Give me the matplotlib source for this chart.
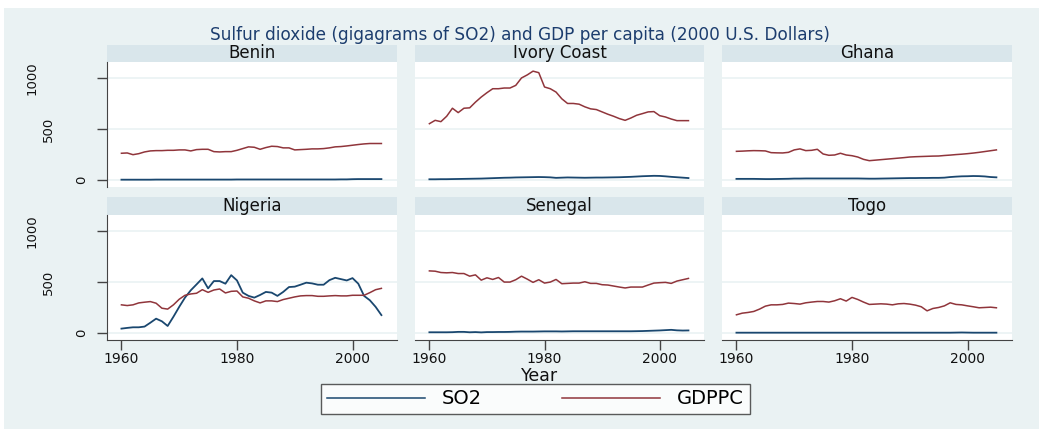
import matplotlib
matplotlib.use("Agg")
import matplotlib.pyplot as plt
import matplotlib.transforms as mtransforms
from matplotlib.patches import Rectangle

# figure size in pixels
W, H = 1039, 429

years = list(range(1960, 2006))

countries = ["Benin", "Ivory Coast", "Ghana", "Nigeria", "Senegal", "Togo"]

so2_benin = [2, 2, 2, 2, 2, 2, 3, 3, 3, 3, 3, 3, 3, 3, 3, 3, 3, 3, 3, 3,
             4, 4, 4, 4, 4, 4, 4, 4, 4, 4, 4, 4, 4, 4, 4, 4, 4, 4, 5, 5,
             7, 8, 8, 8, 8, 8]
gdppc_benin = [262, 265, 248, 258, 275, 285, 288, 288, 291, 291,
               295, 295, 285, 298, 301, 301, 278, 275, 278, 278,
               291, 308, 325, 321, 301, 318, 331, 328, 315, 315,
               295, 298, 301, 305, 305, 308, 315, 325, 328, 334,
               341, 348, 354, 358, 358, 358]

so2_ivory = [6, 6, 7, 7, 8, 9, 10, 11, 12, 13, 15, 17, 19, 21, 22, 24, 25, 26, 27, 28,
             27, 25, 20, 22, 24, 23, 22, 21, 22, 23, 23, 24, 25, 26, 28, 30, 33, 36, 38, 40,
             39, 35, 30, 26, 22, 18]
gdppc_ivory = [553, 586, 573, 626, 705, 662, 705, 709, 765, 815,
               858, 897, 897, 904, 904, 930, 1003, 1033, 1070, 1055,
               914, 897, 864, 798, 752, 752, 745, 719, 699, 692,
               669, 646, 626, 603, 586, 609, 636, 652, 669, 672,
               632, 619, 599, 583, 583, 583]

so2_ghana = [10, 10, 10, 10, 9, 8, 8, 9, 10, 11, 13, 13, 14, 14, 14, 14, 14, 14, 14, 14,
             14, 14, 13, 12, 12, 13, 14, 15, 16, 17, 18, 18, 19, 19, 20, 20, 22, 28, 32, 35,
             36, 38, 37, 34, 28, 25]
gdppc_ghana = [281, 283, 286, 288, 287, 285, 268, 266, 265, 271,
               295, 305, 288, 291, 301, 255, 242, 245, 262, 245,
               238, 225, 202, 189, 194, 199, 204, 209, 214, 219,
               225, 228, 230, 232, 234, 235, 240, 244, 249, 253,
               258, 264, 271, 279, 287, 295]

so2_nigeria = [42, 49, 55, 55, 62, 100, 140, 114, 68, 159,
               256, 347, 419, 477, 536, 438, 510, 510, 484, 568,
               516, 396, 364, 347, 373, 403, 396, 364, 403, 451,
               455, 474, 494, 487, 474, 474, 519, 542, 529, 516,
               539, 484, 364, 321, 256, 175]
gdppc_nigeria = [276, 269, 276, 295, 302, 308, 292, 243, 234, 276,
                 331, 370, 383, 390, 425, 399, 422, 432, 393, 409,
                 412, 354, 341, 315, 295, 315, 315, 308, 328, 341,
                 354, 364, 367, 367, 360, 360, 364, 367, 364, 364,
                 370, 370, 370, 396, 425, 438]

so2_senegal = [6, 6, 6, 6, 7, 10, 10, 6, 8, 5, 8, 8, 9, 9, 10, 12, 13, 13, 13, 14,
               15, 15, 15, 14, 15, 16, 16, 16, 16, 16, 16, 16, 16, 16, 16, 16, 17, 18, 20, 22,
               24, 27, 30, 25, 23, 24]
gdppc_senegal = [610, 607, 594, 591, 594, 584, 584, 558, 571, 519,
                 542, 526, 545, 500, 500, 523, 558, 529, 497, 523,
                 490, 500, 526, 484, 487, 490, 490, 503, 487, 487,
                 474, 471, 461, 451, 442, 451, 451, 451, 471, 490,
                 494, 497, 487, 510, 523, 536]

so2_togo = [2, 2, 2, 2, 2, 2, 2, 2, 2, 2, 2, 2, 2, 2, 2, 2, 2, 2, 2, 2,
            2, 2, 2, 2, 2, 2, 2, 2, 2, 2, 2, 2, 2, 2, 2, 2, 2, 2, 3, 4,
            3, 2, 2, 2, 2, 2]
gdppc_togo = [178, 194, 201, 211, 234, 263, 276, 276, 280, 293,
              289, 283, 296, 303, 309, 309, 303, 316, 336, 313,
              349, 329, 303, 280, 283, 286, 283, 276, 286, 289,
              283, 273, 257, 217, 240, 250, 266, 296, 280, 276,
              266, 257, 247, 250, 253, 247]

so2_all = [so2_benin, so2_ivory, so2_ghana, so2_nigeria, so2_senegal, so2_togo]
gdppc_all = [gdppc_benin, gdppc_ivory, gdppc_ghana, gdppc_nigeria, gdppc_senegal, gdppc_togo]

yticks = [0, 500, 1000]
xticks = [1960, 1980, 2000]

# colours (Stata s2color)
bg = "#eaf2f3"
strip = "#d9e6eb"
navy = "#1a476f"
maroon = "#90353b"
grid = "#eaf2f3"
axis_col = "#444444"

plt.rcParams["font.family"] = ["DejaVu Sans"]

# x pixel of the (staggered) y tick labels, as in the picture
ylab_px = {0: 82, 500: 48, 1000: 32}


def px_axes(fig, x0, y0, x1, y1):
    # axes from pixel box (top-left origin)
    return fig.add_axes([x0 / W, 1 - y1 / H, (x1 - x0) / W, (y1 - y0) / H])


fig = plt.figure(figsize=(W / 100, H / 100), dpi=100)
fig.patch.set_facecolor("white")
fig.patches.append(Rectangle((4 / W, 0), 1, 1 - 8 / H, transform=fig.transFigure,
                             facecolor=bg, edgecolor="none", zorder=-10))

fig.text(520 / W, 1 - 35 / H,
         "Sulfur dioxide (gigagrams of SO2) and GDP per capita (2000 U.S. Dollars)",
         ha="center", va="center", fontsize=12.2, color="#1c3d6e")

col_x = [(107, 397), (415, 704), (722, 1012)]
row_y = [((45, 62), (62, 187)), ((197, 215), (215, 340))]

for i, name in enumerate(countries):
    r, c = divmod(i, 3)
    x0, x1 = col_x[c]
    (h0, h1), (p0, p1) = row_y[r]

    # panel header
    axh = px_axes(fig, x0, h0, x1, h1)
    axh.set_facecolor(strip)
    axh.set_xticks([])
    axh.set_yticks([])
    for s in axh.spines.values():
        s.set_visible(False)
    axh.text(0.5, 0.5, name, ha="center", va="center", fontsize=12,
             transform=axh.transAxes, color="#111111")

    ax = px_axes(fig, x0, p0, x1, p1)
    ax.set_facecolor("white")
    ax.plot(years, so2_all[i], color=navy, lw=1.3, label="SO2", zorder=3)
    ax.plot(years, gdppc_all[i], color=maroon, lw=1.1, label="GDPPC", zorder=3)
    ax.set_xlim(1957.5, 2007.7)
    ax.set_ylim(-70, 1160)
    ax.set_yticks(yticks)
    ax.set_xticks(xticks)
    ax.grid(True, axis="y", color=grid, lw=1.2, zorder=0)
    for s in ax.spines.values():
        s.set_visible(False)
    ax.tick_params(colors=axis_col, length=7, width=1, labelcolor="#111111")

    if c == 0:
        ax.spines["left"].set_visible(True)
        ax.spines["left"].set_color(axis_col)
        ax.tick_params(axis="y", labelleft=False)
        # y labels placed by hand (they sit staggered in the picture)
        for v in yticks:
            tr = mtransforms.blended_transform_factory(fig.transFigure, ax.transData)
            ax.text(ylab_px[v] / W, v, str(v), transform=tr, rotation=90,
                    ha="center", va="center", fontsize=9.5, color="#111111",
                    clip_on=False)
    else:
        ax.tick_params(axis="y", left=False, labelleft=False)

    if r == 1:
        ax.spines["bottom"].set_visible(True)
        ax.spines["bottom"].set_color(axis_col)
        ax.tick_params(axis="x", labelsize=10, pad=1.5)
    else:
        ax.tick_params(axis="x", bottom=False, labelbottom=False)

    if i == 0:
        handles, labels = ax.get_legend_handles_labels()

fig.text(540 / W, 1 - 381 / H, "Year", ha="center", va="baseline", fontsize=12.5,
         color="#111111")

leg = fig.legend(handles, labels, loc="center", ncol=2, mode="expand",
                 bbox_to_anchor=(321 / W, 1 - 413 / H, 429 / W, 28 / H),
                 fontsize=14, handlelength=5.05, handletextpad=0.88,
                 columnspacing=2.0, frameon=True, fancybox=False,
                 borderaxespad=0, borderpad=0.3)
leg.get_frame().set_edgecolor("#333333")
leg.get_frame().set_linewidth(1.0)
for line in leg.get_lines():
    line.set_linewidth(1.1)

fig.savefig("out.png", dpi=100)
